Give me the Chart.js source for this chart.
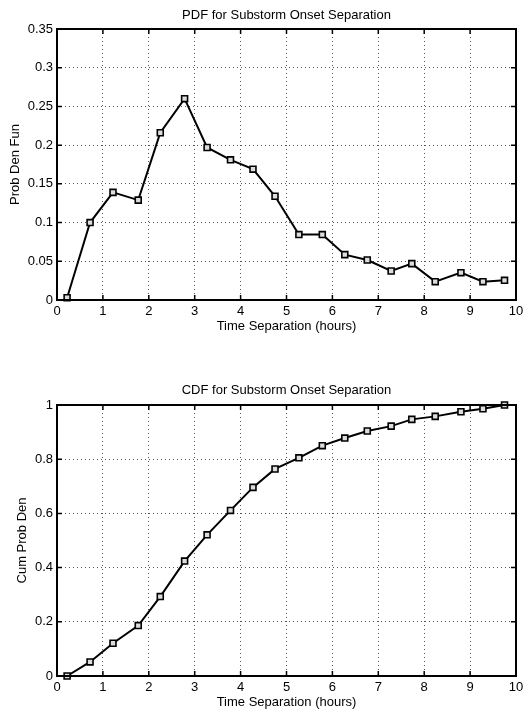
<!DOCTYPE html>
<html>
<head>
<meta charset="utf-8">
<script src="https://cdn.jsdelivr.net/npm/chart.js@4/dist/chart.umd.min.js"></script>
<style>
  html, body { margin: 0; padding: 0; background: #fff; }
  canvas { display: block; position: absolute; left: 0; }
  #pdf { top: 0; }
  #cdf { top: 355px; }
</style>
</head>
<body>
<canvas id="pdf" width="531" height="355"></canvas>
<canvas id="cdf" width="531" height="356"></canvas>
<script>
// bin centres (hours)
var hours = [0.22, 0.72, 1.22, 1.77, 2.25, 2.78, 3.27, 3.78, 4.27, 4.75,
             5.27, 5.78, 6.27, 6.76, 7.28, 7.73, 8.24, 8.80, 9.28, 9.75];
var pdfValues = [0.003, 0.100, 0.139, 0.129, 0.216, 0.260, 0.197, 0.181, 0.169, 0.134,
                 0.0845, 0.0845, 0.0586, 0.0517, 0.0375, 0.047, 0.0237, 0.0353, 0.0237, 0.0254];
var cdfValues = [0.0, 0.052, 0.121, 0.186, 0.293, 0.424, 0.521, 0.611, 0.696, 0.764,
                 0.805, 0.850, 0.878, 0.904, 0.922, 0.947, 0.958, 0.975, 0.986, 1.0];
var xTicks = [0, 1, 2, 3, 4, 5, 6, 7, 8, 9, 10];

var FONT = "'Liberation Sans', Arial, sans-serif";
Chart.defaults.font.family = FONT;
Chart.defaults.font.size = 13;
Chart.defaults.color = "#000";

// matlab-ish box with inward tick marks
var frame = {
  id: "frame",
  afterDraw: function (chart) {
    var ctx = chart.ctx, a = chart.chartArea;
    var x = chart.scales.x, y = chart.scales.y;
    ctx.save();
    ctx.strokeStyle = "#000";
    ctx.lineWidth = 1.5;
    ctx.beginPath();
    x.ticks.forEach(function (t) {
      var px = x.getPixelForValue(t.value);
      ctx.moveTo(px, a.bottom); ctx.lineTo(px, a.bottom - 5);
      ctx.moveTo(px, a.top); ctx.lineTo(px, a.top + 5);
    });
    y.ticks.forEach(function (t) {
      var py = y.getPixelForValue(t.value);
      ctx.moveTo(a.left, py); ctx.lineTo(a.left + 5, py);
      ctx.moveTo(a.right, py); ctx.lineTo(a.right - 5, py);
    });
    ctx.stroke();
    ctx.lineWidth = 2;
    ctx.strokeRect(a.left, a.top, a.right - a.left, a.bottom - a.top);
    ctx.restore();
  }
};

// 0.30 -> 0.3, 1.0 -> 1
function shortNum(v) {
  return String(Math.round(v * 1000) / 1000);
}

function makeChart(id, values, opts) {
  var points = hours.map(function (h, i) { return { x: h, y: values[i] }; });
  return new Chart(document.getElementById(id).getContext("2d"), {
    type: "line",
    data: {
      datasets: [{
        data: points,
        borderColor: "#000",
        borderWidth: 2,
        pointStyle: "rect",
        pointRadius: 4.2,
        pointBorderWidth: 1.6,
        pointBorderColor: "#000",
        pointBackgroundColor: "#ddd",
        tension: 0,
        clip: false
      }]
    },
    options: {
      responsive: false,
      animation: false,
      events: [],
      layout: { padding: { left: 0, right: 15, top: 0, bottom: opts.padBottom } },
      plugins: {
        legend: { display: false },
        tooltip: { enabled: false },
        title: {
          display: true,
          fullSize: false,
          text: opts.title,
          font: { size: 13, weight: "normal" },
          color: "#000",
          padding: { top: opts.titleTop, bottom: opts.titleBottom }
        }
      },
      scales: {
        x: {
          type: "linear",
          min: 0,
          max: 10,
          afterBuildTicks: function (s) { s.ticks = xTicks.map(function (v) { return { value: v }; }); },
          afterFit: function (s) { s.height = opts.xHeight; },
          ticks: { padding: 4, maxRotation: 0, font: { size: 13 }, callback: shortNum },
          grid: { color: "#555", lineWidth: 1, drawTicks: false },
          border: { display: false, dash: [1, 3] },
          title: { display: true, text: "Time Separation (hours)", font: { size: 13 }, padding: { top: 0, bottom: opts.xTitleBottom } }
        },
        y: {
          min: 0,
          max: opts.yMax,
          ticks: { stepSize: opts.yStep, padding: 4, font: { size: 13 }, callback: shortNum },
          afterFit: function (s) { s.width = 57; },
          grid: { color: "#555", lineWidth: 1, drawTicks: false },
          border: { display: false, dash: [1, 3] },
          title: { display: true, text: opts.yTitle, font: { size: 13 }, padding: { top: opts.yTitleLeft, bottom: 0 } }
        }
      }
    },
    plugins: [frame]
  });
}

makeChart("pdf", pdfValues, {
  title: "PDF for Substorm Onset Separation",
  yTitle: "Prob Den Fun",
  yMax: 0.35, yStep: 0.05,
  titleTop: 7.2, titleBottom: 6.2,
  xHeight: 34, xTitleBottom: 0, padBottom: 21,
  yTitleLeft: 7.5
});

makeChart("cdf", cdfValues, {
  title: "CDF for Substorm Onset Separation",
  yTitle: "Cum Prob Den",
  yMax: 1, yStep: 0.2,
  titleTop: 27.2, titleBottom: 7.2,
  xHeight: 35, xTitleBottom: 1.2, padBottom: 0,
  yTitleLeft: 14.2
});
</script>
</body>
</html>
